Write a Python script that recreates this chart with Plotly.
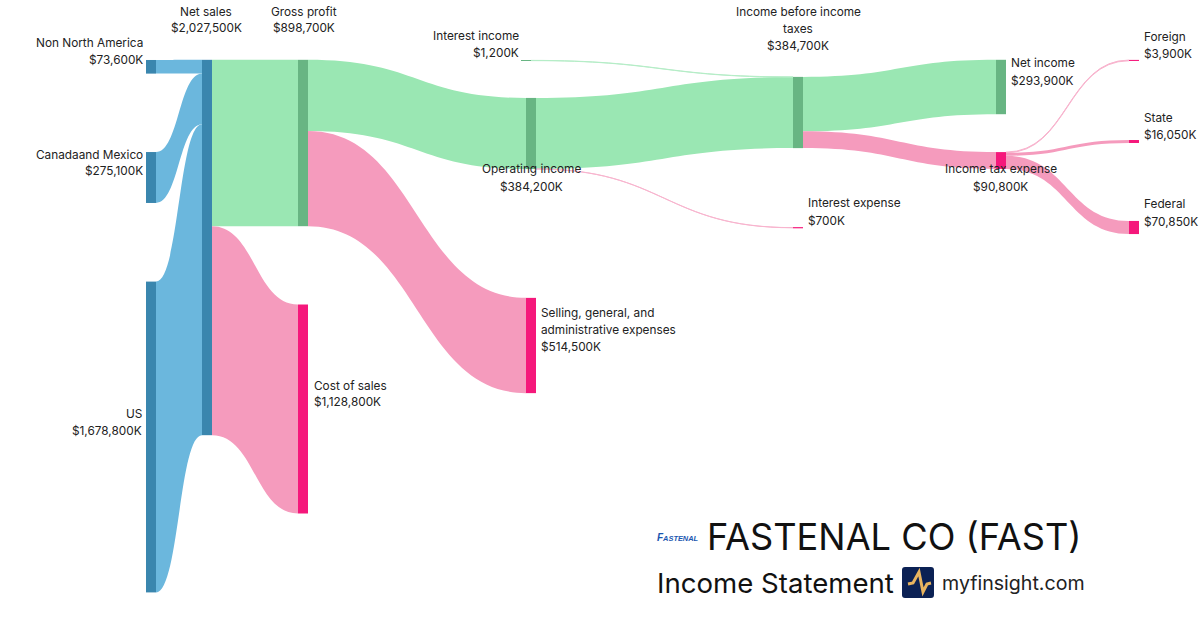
import plotly.graph_objects as go

W, H = 1200, 630

# --- data ---
node_names = ["Non North America", "Canadaand Mexico", "US", "Net sales", "Cost of sales",
              "Gross profit", "Selling, general, and<br>administrative expenses", "Operating income",
              "Interest income", "Interest expense", "Income before income<br>taxes",
              "Income tax expense", "Net income", "Foreign", "State", "Federal"]
node_values = [73600, 275100, 1678800, 2027500, 1128800, 898700, 514500, 384200,
               1200, 700, 384700, 90800, 293900, 3900, 16050, 70850]
link_source = [0, 1, 2, 3, 3, 5, 5, 7, 8, 7, 10, 10, 11, 11, 11]
link_target = [3, 3, 3, 5, 4, 7, 6, 10, 10, 9, 12, 11, 13, 14, 15]
link_value = [73600, 275100, 1678800, 898700, 1128800, 384200, 514500, 383500, 1200, 700,
              293900, 90800, 3900, 16050, 70850]
link_kind = ["rev", "rev", "rev", "gain", "cost", "gain", "cost", "gain", "gain", "cost",
             "gain", "cost", "cost", "cost", "cost"]
node_kind = ["rev", "rev", "rev", "rev", "cost", "gain", "cost", "gain", "gain", "cost",
             "gain", "cost", "gain", "cost", "cost", "cost"]

# --- layout of the nodes (pixel centres in the picture) ---
node_cx = [151, 151, 151, 207, 303, 303, 531, 531, 526, 798, 798, 1001, 1001, 1134, 1134, 1134]
node_cy = [66.8, 177.5, 437, 247.5, 409, 143, 345.5, 133.5, 60.5, 227.7, 112.5, 160.5, 87, 60.4, 141.5, 227.5]

NODE_COL = {"rev": "#3a86ae", "gain": "#68b583", "cost": "#f5187b"}
LINK_COL = {"rev": "#6bb7dd", "gain": "#9ae7b3", "cost": "#f59bbd"}
THIN_LINK_COL = {"gain": "#b5edc7", "cost": "#f8b4ce"}
THIN = 5000

fig = go.Figure(go.Sankey(
    arrangement="fixed",
    domain=dict(x=[0, 1], y=[0, 1]),
    node=dict(
        label=[""] * len(node_names),
        x=[c / W for c in node_cx],
        y=[c / H for c in node_cy],
        thickness=10,
        pad=42.4,
        color=[NODE_COL[k] for k in node_kind],
        line=dict(width=0),
        hovertemplate="%{label}<extra></extra>",
    ),
    link=dict(
        source=link_source,
        target=link_target,
        value=link_value,
        color=[THIN_LINK_COL[k] if v < THIN else LINK_COL[k] for k, v in zip(link_kind, link_value)],
        line=dict(width=0),
    ),
))


def money(v):
    return f"${v:,}K"


# label block centres: index -> (x px, y px, anchor)
label_pos = {
    0: (143, 52, "right"), 1: (143, 163, "right"), 2: (142, 422, "right"),
    3: (206, 20, "center"), 5: (304, 20, "center"),
    6: (541, 330, "left"), 7: (531, 178, "center"), 8: (519, 44, "right"),
    9: (808, 212, "left"), 10: (798, 29, "center"), 11: (1001, 178, "center"),
    12: (1011, 72, "left"), 13: (1144, 45, "left"), 14: (1144, 126, "left"),
    15: (1144, 213, "left"), 4: (314, 394, "left"),
}
FONT = "Inter"
LINE = 17
SHIFT = {"left": -2, "right": 2, "center": 0}
annotations = []
for i, (px, py, anc) in label_pos.items():
    lines = node_names[i].split("<br>") + [money(node_values[i])]
    n = len(lines)
    for j, txt in enumerate(lines):
        annotations.append(dict(
            x=px / W, y=1 - (py + (j - (n - 1) / 2) * LINE) / H, xref="paper", yref="paper",
            xanchor=anc, yanchor="middle", align=anc, showarrow=False, xshift=SHIFT[anc],
            text=txt, font=dict(family=FONT, size=11.8, color="#222222"),
        ))

annotations += [
    dict(x=1084 / W, y=1 - 537 / H, xref="paper", yref="paper", xanchor="right", yanchor="middle",
         showarrow=False, text="FASTENAL CO (FAST)", font=dict(family=FONT, size=36.2, color="#111111")),
    dict(x=655 / W, y=1 - 583 / H, xref="paper", yref="paper", xanchor="left", yanchor="middle",
         showarrow=False, text="Income Statement", font=dict(family=FONT, size=27.6, color="#111111")),
    dict(x=940 / W, y=1 - 583 / H, xref="paper", yref="paper", xanchor="left", yanchor="middle",
         showarrow=False, text="myfinsight.com", font=dict(family=FONT, size=19.6, color="#222222")),
    dict(x=655 / W, y=1 - 537 / H, xref="paper", yref="paper", xanchor="left", yanchor="middle",
         showarrow=False, text="<b><i><span style='font-size:10px'>F</span>ASTENAL</i></b>",
         font=dict(family="Liberation Sans", size=7.4, color="#1a56b0")),
]


def P(x, y):
    return f"{x / W:.5f},{1 - y / H:.5f}"


shapes = [
    dict(type="path", xref="paper", yref="paper", fillcolor="#0b2154", line=dict(width=0),
         path=(f"M {P(905, 567)} L {P(931, 567)} Q {P(934, 567)} {P(934, 570)} L {P(934, 595)} "
               f"Q {P(934, 598)} {P(931, 598)} L {P(905, 598)} Q {P(902, 598)} {P(902, 595)} "
               f"L {P(902, 570)} Q {P(902, 567)} {P(905, 567)} Z")),
    dict(type="path", xref="paper", yref="paper", line=dict(width=3, color="#e8b45f"),
         path=f"M {P(908, 584)} L {P(913, 583)} L {P(919, 572)} L {P(923, 592)} L {P(927, 584)} L {P(931, 583)}"),
]
# nodes too thin for the value scale keep a visible 1px tick, as in the reference
for i, v in enumerate(node_values):
    if v < THIN:
        shapes.append(dict(type="line", xref="paper", yref="paper",
                           x0=(node_cx[i] - 5) / W, x1=(node_cx[i] + 5) / W,
                           y0=1 - node_cy[i] / H, y1=1 - node_cy[i] / H,
                           line=dict(width=1, color=NODE_COL[node_kind[i]])))

fig.update_layout(
    width=W, height=H, margin=dict(l=0, r=0, t=0, b=0),
    paper_bgcolor="white", font=dict(family=FONT, size=12, color="#222222"),
    annotations=annotations, shapes=shapes,
)
fig.write_html("out.html", post_script="document.body.style.margin='0';", config=dict(displayModeBar=False))
